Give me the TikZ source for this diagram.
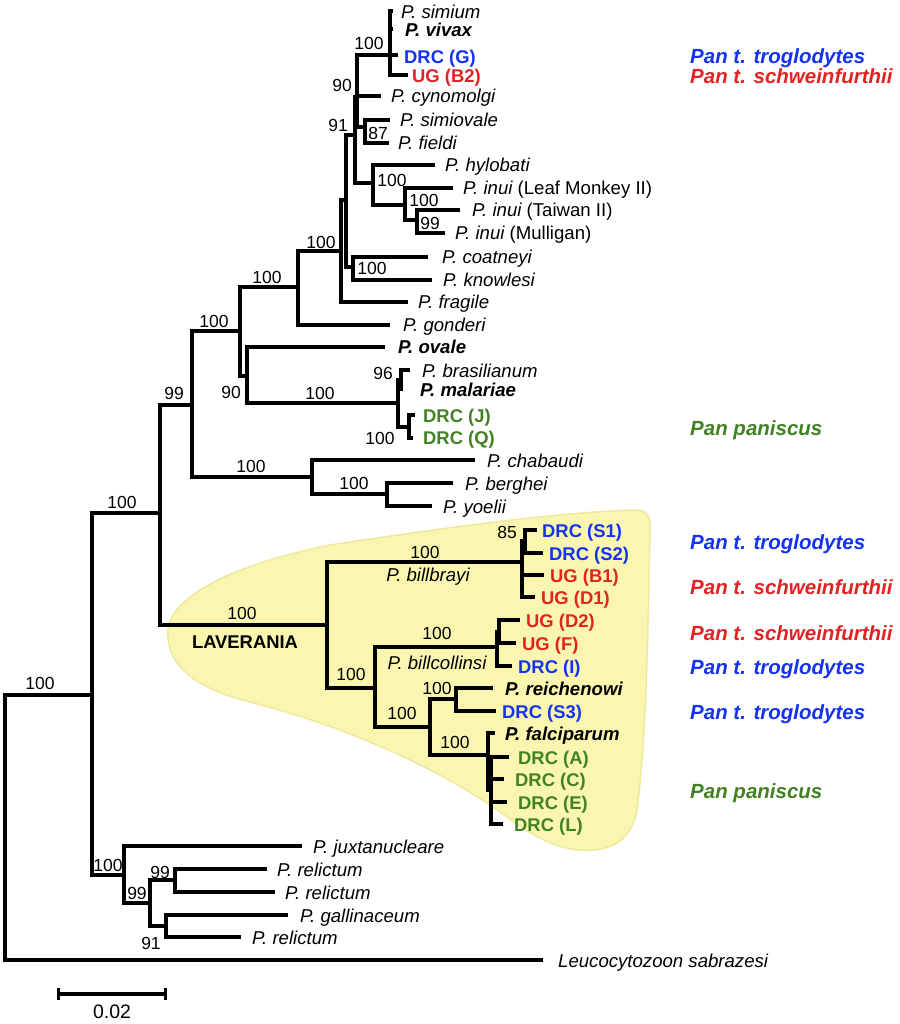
\documentclass[tikz,border=0pt]{standalone}
\usepackage{fontspec}
\setmainfont{Liberation Sans}
\definecolor{tblue}{RGB}{20,50,240}
\definecolor{tred}{RGB}{225,35,35}
\definecolor{tgreen}{RGB}{65,130,35}
\definecolor{hl}{RGB}{250,246,176}
\definecolor{hledge}{RGB}{238,232,160}
\begin{document}
\begin{tikzpicture}[x=1pt,y=-1pt,
  br/.style={line width=3.3pt},
  leaf/.style={anchor=base west,inner sep=0pt,font=\fontsize{18.6}{18.6}\selectfont\itshape},
  leafb/.style={anchor=base west,inner sep=0pt,font=\fontsize{18.6}{18.6}\selectfont\bfseries\itshape},
  dblue/.style={anchor=base west,inner sep=0pt,font=\fontsize{18.4}{18.4}\selectfont\bfseries,text=tblue},
  dred/.style={anchor=base west,inner sep=0pt,font=\fontsize{18.4}{18.4}\selectfont\bfseries,text=tred},
  dgreen/.style={anchor=base west,inner sep=0pt,font=\fontsize{18.4}{18.4}\selectfont\bfseries,text=tgreen},
  boot/.style={inner sep=0pt,font=\fontsize{17.5}{17.5}\selectfont},
  host/.style={anchor=base west,inner sep=0pt,font=\fontsize{20.5}{20.5}\selectfont\bfseries\itshape},
  clade/.style={inner sep=0pt,font=\fontsize{18.6}{18.6}\selectfont\itshape}]
\useasboundingbox (0,0) rectangle (899,1024);
\fill[white] (0,0) rectangle (899,1024);
% highlight
\filldraw[fill=hl,draw=hledge,line width=1.5pt]
  (168,630) .. controls (170,598) and (230,565) .. (330,545)
  .. controls (450,527) and (560,512) .. (636,510)
  .. controls (648,510) and (651,518) .. (650,530)
  .. controls (648,650) and (645,760) .. (636,815)
  .. controls (628,845) and (605,852) .. (580,850)
  .. controls (550,848) and (525,830) .. (500,812)
  .. controls (430,762) and (330,722) .. (250,702)
  .. controls (190,687) and (166,662) .. (168,630) -- cycle;
% internal nodes
\coordinate (R) at (5,827);
\coordinate (N92) at (92,695);
\coordinate (N160) at (160,513);
\coordinate (N124) at (124,875);
\coordinate (N150) at (150,903);
\coordinate (N175) at (175,880);
\coordinate (N166) at (166,926);
\coordinate (N192) at (192,405);
\coordinate (N327) at (327,625);
\coordinate (N240) at (240,331);
\coordinate (N312) at (312,477);
\coordinate (N387) at (387,494);
\coordinate (N298) at (298,287);
\coordinate (N247) at (247,376);
\coordinate (N398) at (398,403);
\coordinate (N401) at (401,380);
\coordinate (N409) at (409,427);
\coordinate (N341) at (341,251);
\coordinate (N346) at (346,200);
\coordinate (N353) at (353,267);
\coordinate (N355) at (355,135);
\coordinate (N357) at (357,97);
\coordinate (N373) at (373,183);
\coordinate (N390) at (390,55);
\coordinate (N365) at (365,127);
\coordinate (N405) at (405,205);
\coordinate (N417) at (417,220);
\coordinate (N522) at (522,562);
\coordinate (N525) at (525,541);
\coordinate (N375) at (375,688);
\coordinate (N497) at (497,647);
\coordinate (N499) at (499,632);
\coordinate (N430) at (430,727);
\coordinate (N456) at (456,699);
\coordinate (N488) at (488,755);
\coordinate (N491) at (491,790);
% tips
\coordinate (sim) at (393,11);
\coordinate (viv) at (393,29);
\coordinate (G) at (398,55);
\coordinate (B2) at (408,75);
\coordinate (cyno) at (381,96);
\coordinate (simio) at (390,120);
\coordinate (field) at (389,143);
\coordinate (hyl) at (435,165);
\coordinate (LM) at (453,188);
\coordinate (TW) at (460,210);
\coordinate (Mul) at (445,233);
\coordinate (coat) at (428,257);
\coordinate (know) at (432,280);
\coordinate (frag) at (408,302);
\coordinate (gond) at (390,325);
\coordinate (ova) at (385,347);
\coordinate (bras) at (410,370);
\coordinate (mal) at (403,389);
\coordinate (J) at (415,415);
\coordinate (Q) at (413,438);
\coordinate (chab) at (475,460);
\coordinate (berg) at (453,483);
\coordinate (yoel) at (432,506);
\coordinate (S1) at (537,530);
\coordinate (S2) at (543,553);
\coordinate (B1) at (544,575);
\coordinate (D1) at (535,597);
\coordinate (D2) at (520,620);
\coordinate (F) at (516,643);
\coordinate (I) at (512,666);
\coordinate (rei) at (493,688);
\coordinate (S3) at (496,711);
\coordinate (fal) at (495,733);
\coordinate (A) at (509,757);
\coordinate (C) at (504,779);
\coordinate (E) at (507,802);
\coordinate (L) at (503,824);
\coordinate (jux) at (302,846);
\coordinate (relA) at (267,869);
\coordinate (relB) at (275,892);
\coordinate (gal) at (288,915);
\coordinate (relC) at (241,937);
\coordinate (leu) at (543,960);
% branches
\draw[br] (R) |- (N92) (R) |- (leu);
\draw[br] (N92) |- (N160) (N92) |- (N124);
\draw[br] (N124) |- (jux) (N124) |- (N150);
\draw[br] (N150) |- (N175) (N150) |- (N166);
\draw[br] (N175) |- (relA) (N175) |- (relB);
\draw[br] (N166) |- (gal) (N166) |- (relC);
\draw[br] (N160) |- (N192) (N160) |- (N327);
\draw[br] (N192) |- (N240) (N192) |- (N312);
\draw[br] (N312) |- (chab) (N312) |- (N387);
\draw[br] (N387) |- (berg) (N387) |- (yoel);
\draw[br] (N240) |- (N298) (N240) |- (N247);
\draw[br] (N247) |- (ova) (N247) |- (N398);
\draw[br] (N398) |- (N401) (N398) |- (N409);
\draw[br] (N401) |- (bras) (N401) |- (mal);
\draw[br] (N409) |- (J) (N409) |- (Q);
\draw[br] (N298) |- (N341) (N298) |- (gond);
\draw[br] (N341) |- (N346) (N341) |- (frag);
\draw[br] (N346) |- (N355) (N346) |- (N353);
\draw[br] (N353) |- (coat) (N353) |- (know);
\draw[br] (N355) |- (N357) (N355) |- (N373);
\draw[br] (N357) |- (N390) (N357) |- (cyno) (N357) |- (N365);
\draw[br] (N390) |- (sim) (N390) |- (viv) (N390) |- (G) (N390) |- (B2);
\draw[br] (N365) |- (simio) (N365) |- (field);
\draw[br] (N373) |- (hyl) (N373) |- (N405);
\draw[br] (N405) |- (LM) (N405) |- (N417);
\draw[br] (N417) |- (TW) (N417) |- (Mul);
\draw[br] (N327) |- (N522) (N327) |- (N375);
\draw[br] (N522) |- (N525) (N522) |- (B1) (N522) |- (D1);
\draw[br] (N525) |- (S1) (N525) |- (S2);
\draw[br] (N375) |- (N497) (N375) |- (N430);
\draw[br] (N497) |- (N499) (N497) |- (I);
\draw[br] (N499) |- (D2) (N499) |- (F);
\draw[br] (N430) |- (N456) (N430) |- (N488);
\draw[br] (N456) |- (rei) (N456) |- (S3);
\draw[br] (N488) |- (fal) (N488) |- (N491);
\draw[br] (N491) |- (A) (N491) |- (C) (N491) |- (E) (N491) |- (L);
% leaf labels
\node[leaf] (tsim) at (401,18.5) {P. simium};
\node[leafb] (tviv) at (405,36.5) {P. vivax};
\node[dblue] (tG) at (404,63.5) {DRC (G)};
\node[dred] (tB2) at (412,83) {UG (B2)};
\node[leaf] (tcyno) at (391,103) {P. cynomolgi};
\node[leaf] (tsimio) at (400,126.5) {P. simiovale};
\node[leaf] (tfield) at (398,149.5) {P. fieldi};
\node[leaf] (thyl) at (445,171.5) {P. hylobati};
\node[leaf] (tLM) at (463,194.5) {P. inui \upshape(Leaf Monkey II)};
\node[leaf] (tTW) at (472,216.5) {P. inui \upshape(Taiwan II)};
\node[leaf] (tMul) at (455,239.5) {P. inui \upshape(Mulligan)};
\node[leaf] (tcoat) at (442,263.5) {P. coatneyi};
\node[leaf] (tknow) at (443,286.5) {P. knowlesi};
\node[leaf] (tfrag) at (418,308.5) {P. fragile};
\node[leaf] (tgond) at (403,331.5) {P. gonderi};
\node[leafb] (tova) at (398,353.5) {P. ovale};
\node[leaf] (tbras) at (422,377) {P. brasilianum};
\node[leafb] (tmal) at (420,396) {P. malariae};
\node[dgreen] (tJ) at (423,422) {DRC (J)};
\node[dgreen] (tQ) at (423,444.5) {DRC (Q)};
\node[leaf] (tchab) at (487,467) {P. chabaudi};
\node[leaf] (tberg) at (465,490) {P. berghei};
\node[leaf] (tyoel) at (443,513) {P. yoelii};
\node[dblue] (tS1) at (542,537.5) {DRC (S1)};
\node[dblue] (tS2) at (549,560) {DRC (S2)};
\node[dred] (tB1) at (550,582) {UG (B1)};
\node[dred] (tD1) at (541,604) {UG (D1)};
\node[dred] (tD2) at (526,627) {UG (D2)};
\node[dred] (tF) at (522,650) {UG (F)};
\node[dblue] (tI) at (518,673) {DRC (I)};
\node[leafb] (trei) at (505,695) {P. reichenowi};
\node[dblue] (tS3) at (502,718) {DRC (S3)};
\node[leafb] (tfal) at (505,740) {P. falciparum};
\node[dgreen] (tA) at (518,764) {DRC (A)};
\node[dgreen] (tC) at (515,786) {DRC (C)};
\node[dgreen] (tE) at (518,809) {DRC (E)};
\node[dgreen] (tL) at (514,831) {DRC (L)};
\node[leaf] (tjux) at (313,853) {P. juxtanucleare};
\node[leaf] (trelA) at (277,876) {P. relictum};
\node[leaf] (trelB) at (285,899) {P. relictum};
\node[leaf] (tgal) at (300,922) {P. gallinaceum};
\node[leaf] (trelC) at (252,944) {P. relictum};
\node[leaf] (tleu) at (558,967) {Leucocytozoon sabrazesi};
% bootstrap values
\node[boot] (b1) at (40,683) {100};
\node[boot] (b2) at (122,502) {100};
\node[boot] (b3) at (108,865) {100};
\node[boot] (b4) at (137,893) {99};
\node[boot] (b5) at (160,872) {99};
\node[boot] (b6) at (151,943) {91};
\node[boot] (b7) at (174,393) {99};
\node[boot] (b8) at (242,613) {100};
\node[boot] (b9) at (214,321) {100};
\node[boot] (b10) at (251,466) {100};
\node[boot] (b11) at (354,483) {100};
\node[boot] (b12) at (267,277) {100};
\node[boot] (b13) at (231,392) {90};
\node[boot] (b14) at (320,393) {100};
\node[boot] (b15) at (383,373) {96};
\node[boot] (b16) at (380,438) {100};
\node[boot] (b17) at (321,242) {100};
\node[boot] (b18) at (372,268) {100};
\node[boot] (b19) at (338,125) {91};
\node[boot] (b20) at (342,85) {90};
\node[boot] (b21) at (369,43) {100};
\node[boot] (b22) at (378,133) {87};
\node[boot] (b23) at (392,180) {100};
\node[boot] (b24) at (424,200) {100};
\node[boot] (b25) at (430,223) {99};
\node[boot] (b26) at (425,552) {100};
\node[boot] (b27) at (507,532) {85};
\node[boot] (b28) at (351,674) {100};
\node[boot] (b29) at (437,633) {100};
\node[boot] (b30) at (402,713) {100};
\node[boot] (b31) at (437,688) {100};
\node[boot] (b32) at (455,742) {100};
% clade names
\node[inner sep=0pt,font=\fontsize{18.4}{18.4}\selectfont\bfseries] (lav) at (245,642) {LAVERANIA};
\node[clade] (bb) at (428,577) {P. billbrayi};
\node[clade] (bc) at (437,663) {P. billcollinsi};
% host annotations
\node[host,text=tblue] (h1) at (690,63.5) {Pan t. troglodytes};
\node[host,text=tred] (h2) at (690,83.5) {Pan t. schweinfurthii};
\node[host,text=tgreen] (h3) at (690,435.5) {Pan paniscus};
\node[host,text=tblue] (h4) at (690,549.5) {Pan t. troglodytes};
\node[host,text=tred] (h5) at (690,594.5) {Pan t. schweinfurthii};
\node[host,text=tred] (h6) at (690,640.5) {Pan t. schweinfurthii};
\node[host,text=tblue] (h7) at (690,674.5) {Pan t. troglodytes};
\node[host,text=tblue] (h8) at (690,719.5) {Pan t. troglodytes};
\node[host,text=tgreen] (h9) at (690,798.5) {Pan paniscus};
% scale bar
\coordinate (sb1) at (58,994);
\coordinate (sb2) at (165,994);
\draw[br] (sb1) -- (sb2);
\draw[line width=3pt] ([yshift=-6pt]sb1) -- ([yshift=6pt]sb1);
\draw[line width=3pt] ([yshift=-6pt]sb2) -- ([yshift=6pt]sb2);
\node[inner sep=0pt,font=\fontsize{19.5}{19.5}\selectfont] (sbl) at (112,1012) {0.02};
\end{tikzpicture}
\end{document}
